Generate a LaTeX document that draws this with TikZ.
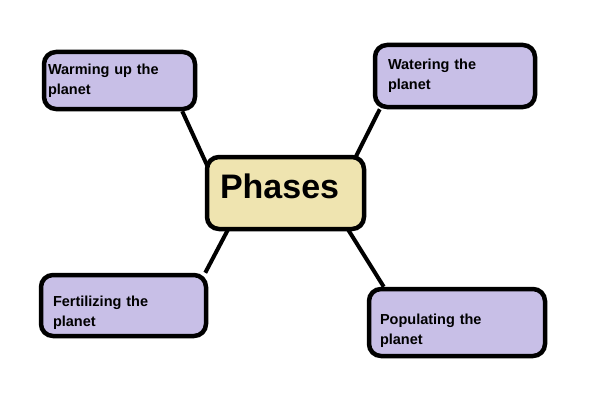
\documentclass[tikz,border=0pt]{standalone}
\usepackage{fontspec}
\setmainfont{Liberation Sans}
\definecolor{lavender}{RGB}{200,191,231}
\definecolor{cream}{RGB}{239,228,176}
\tikzset{phase/.style = {draw, line width=4.5pt, rounded corners=12pt, fill=lavender,
                         align=left, inner sep=0pt, font=\bfseries\fontsize{14.5}{20}\selectfont},
         hub/.style = {phase, fill=cream, font=\bfseries\fontsize{34}{40}\selectfont},
         link/.style = {line width=4pt}}
\newcommand{\droptext}[1]{\rule{0pt}{#1}}
\usetikzlibrary{backgrounds}

\begin{document}
\begin{tikzpicture}[x=1pt, y=1pt]
  	\useasboundingbox (0,0) rectangle (608,-412);
  	\node[hub, minimum width=157pt, minimum height=72pt, text width=131pt, text depth=14pt] (phases) at (285.5,-193) {Phases};
  	\node[phase, minimum width=151pt, minimum height=57pt, text width=143pt] (warm) at (119.5,-80.5) {Warming up the\\planet};
  	\node[phase, minimum width=160pt, minimum height=62pt, text width=134pt] (water) at (455,-76) {Watering the\\planet};
  	\node[phase, minimum width=165pt, minimum height=61pt, text width=141pt] (fert) at (123.5,-305.5) {\droptext{26pt}Fertilizing the\\planet};
  	\node[phase, minimum width=176pt, minimum height=67pt, text width=154pt] (pop) at (457,-322.5) {\droptext{28pt}Populating the\\planet};
  	\begin{scope}[on background layer]
  	  \draw[link] ([xshift=-15pt]warm.south east) -- ([shift={(3pt,-12pt)}]phases.north west);
  	  \draw[link] ([xshift=7pt]water.south west) -- ([shift={(-14pt,-9pt)}]phases.north east);
  	  \draw[link] ([xshift=-3pt]fert.north east) -- ([shift={(25pt,5pt)}]phases.south west);
  	  \draw[link] ([xshift=17pt]pop.north west) -- ([shift={(-19pt,3pt)}]phases.south east);
  	\end{scope}
  \end{tikzpicture}
\end{document}
